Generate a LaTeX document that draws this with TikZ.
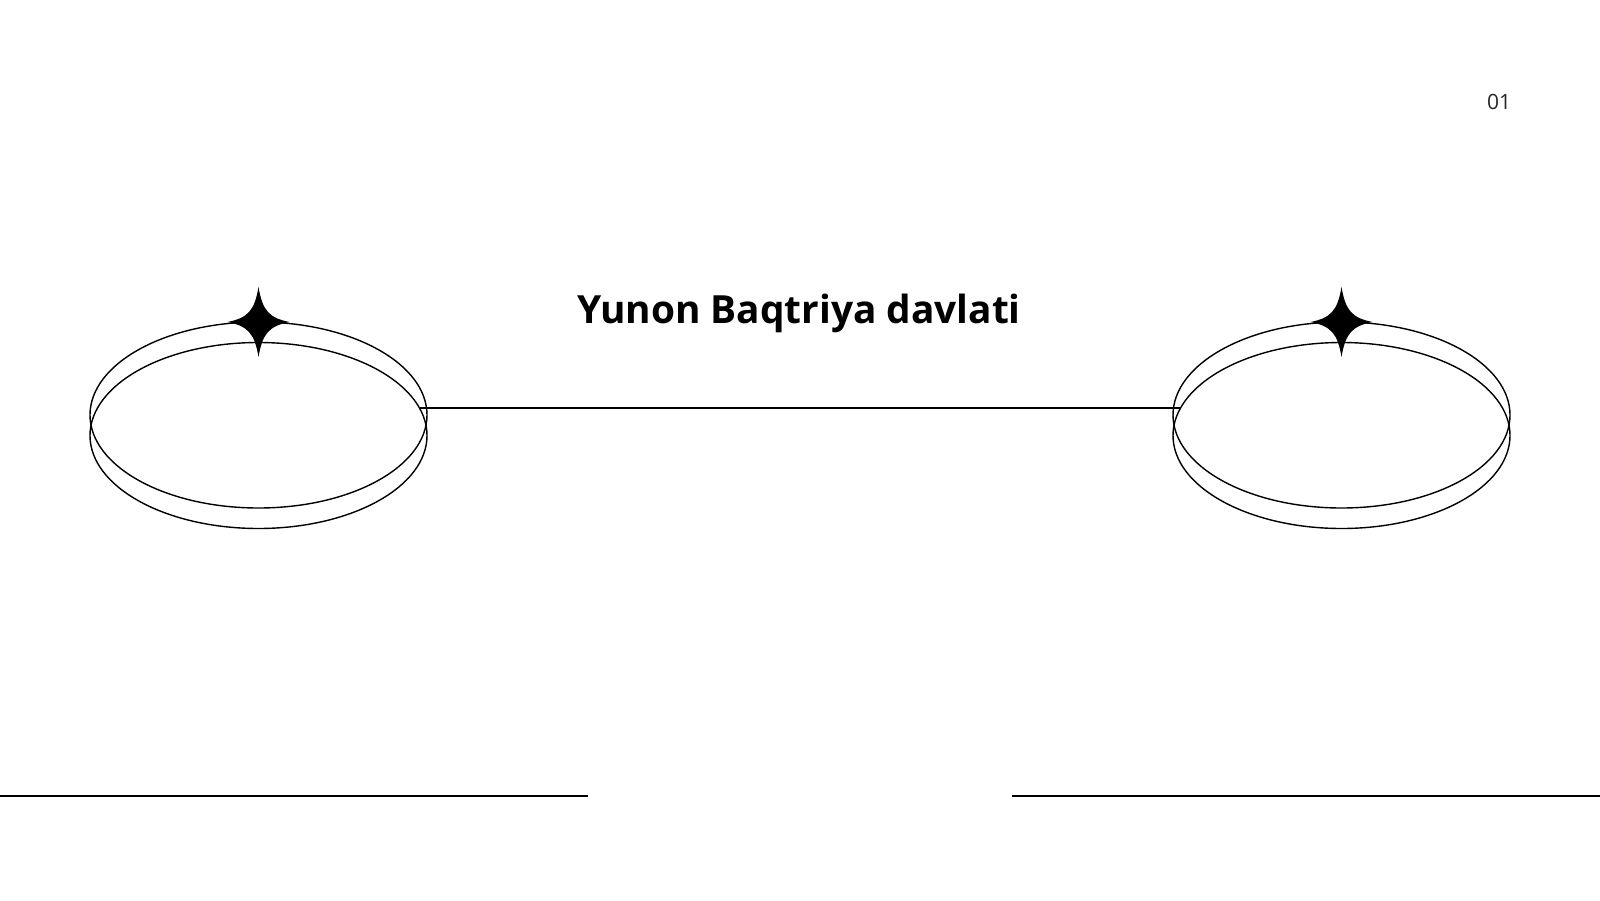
\documentclass[tikz,border=0pt]{standalone}
\usepackage{fontspec}
\setmainfont{Open Sans}
\usetikzlibrary{shapes.geometric}
\definecolor{pagegray}{HTML}{262626}
\tikzset{
  ring/.style={ellipse, draw=black, line width=0.7pt, minimum width=168.5pt, minimum height=93pt, inner sep=0pt, outer sep=0pt},
  rule/.style={draw=black, line width=0.7pt},
  sparklepic/.pic={\fill[black] (0,-35) .. controls (4,-11) and (11,-4) .. (31,0)
      .. controls (11,4) and (4,11) .. (0,35)
      .. controls (-4,11) and (-11,4) .. (-31,0)
      .. controls (-11,-4) and (-4,-11) .. (0,-35) -- cycle;},
  titletext/.style={font=\fontsize{19.4pt}{23pt}\selectfont\bfseries, text=black, inner sep=0pt},
  pagenum/.style={font=\fontsize{10.5pt}{12pt}\selectfont, text=pagegray, inner sep=0pt}
}
\begin{document}
\begin{tikzpicture}[x=0.5pt,y=-0.5pt]
  \fill[white] (0,0) rectangle (1600,900);
  \useasboundingbox (0,0) rectangle (1600,900);
  % left rings
  \node[ring] (la) at (258.5,415) {};
  \node[ring] (lb) at (258.5,435.5) {};
  % right rings
  \node[ring] (ra) at (1341.5,415) {};
  \node[ring] (rb) at (1341.5,435.5) {};
  % connector ends on the lower rings
  \coordinate (cl) at (419.4,408);
  \coordinate (cr) at (1180.6,408);
  \draw[rule] (cl) -- (cr);
  % stars
  \pic at (258.5,322) {sparklepic};
  \pic at (1341.5,322) {sparklepic};
  % title
  \node[titletext] (title) at (799,313) {Yunon Baqtriya davlati};
  % page number
  \node[pagenum] (num) at (1499,102) {01};
  % bottom rules
  \coordinate (bl1) at (0,796);
  \coordinate (bl2) at (588,796);
  \coordinate (br1) at (1012,796);
  \coordinate (br2) at (1600,796);
  \draw[rule] (bl1) -- (bl2);
  \draw[rule] (br1) -- (br2);
\end{tikzpicture}
\end{document}
